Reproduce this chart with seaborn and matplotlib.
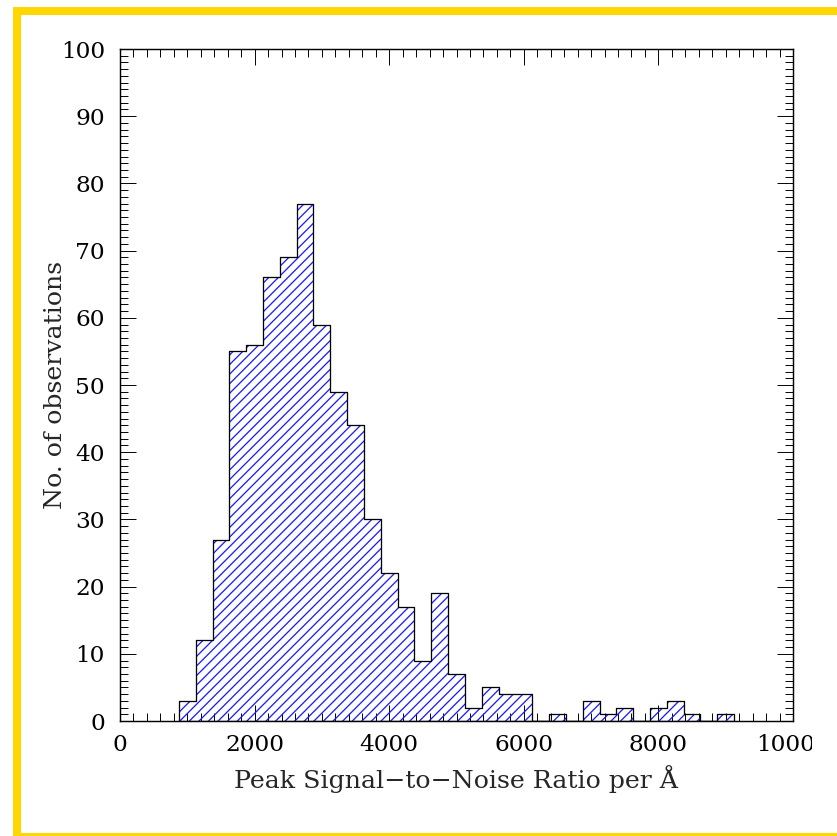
import numpy as np
import matplotlib
matplotlib.use("Agg")
import matplotlib.pyplot as plt
from matplotlib.ticker import MultipleLocator
from matplotlib.patches import Rectangle
from matplotlib.transforms import Bbox, TransformedBbox
import seaborn as sns

# Peak S/N per Angstrom: bin centres (bins are 250 wide) and counts per bin
snr_bin_centers = [1000, 1250, 1500, 1750, 2000, 2250, 2500, 2750, 3000, 3250,
                   3500, 3750, 4000, 4250, 4500, 4750, 5000, 5250, 5500, 5750,
                   6000, 6250, 6500, 6750, 7000, 7250, 7500, 7750, 8000, 8250,
                   8500, 8750, 9000]
n_observations = [3, 12, 27, 55, 56, 66, 69, 77, 59, 49,
                  44, 30, 22, 17, 9, 19, 7, 2, 5, 4,
                  4, 0, 1, 0, 3, 1, 2, 0, 2, 3,
                  1, 0, 1]

x_tick_values = [0, 2000, 4000, 6000, 8000, 10000]
x_tick_labels = ["0", "2000", "4000", "6000", "8000", "10000"]
y_tick_values = [0, 10, 20, 30, 40, 50, 60, 70, 80, 90, 100]
y_tick_labels = ["0", "10", "20", "30", "40", "50", "60", "70", "80", "90", "100"]

x_title = "Peak Signal\u2212to\u2212Noise Ratio per \u00c5"
y_title = "No. of observations"

DPI = 115
W, H = 837, 836
HATCH_BLUE = "#1a1aff"

sns.set_style("ticks")
plt.rcParams["font.family"] = ["DejaVu Serif"]
plt.rcParams["hatch.linewidth"] = 0.8
plt.rcParams["hatch.color"] = HATCH_BLUE

fig = plt.figure(figsize=(W / DPI, H / DPI), dpi=DPI)
ax = fig.add_axes([120 / W, (H - 721) / H, 673 / W, 672 / H])

hist_kw = dict(x=snr_bin_centers, weights=n_observations, binwidth=250,
               binrange=(875, 9125), element="step", fill=True, ax=ax)

# blue diagonal hatching inside the histogram
sns.histplot(**hist_kw, color=HATCH_BLUE, facecolor="none",
             edgecolor=HATCH_BLUE, linewidth=0, hatch="////")
# black step outline on top
sns.histplot(**hist_kw, color="black", facecolor="none",
             edgecolor="black", linewidth=0.8)

ax.set_xlim(0, 10000)
ax.set_ylim(0, 100)
ax.set_xticks(x_tick_values)
ax.set_xticklabels(x_tick_labels)
ax.set_yticks(y_tick_values)
ax.set_yticklabels(y_tick_labels)
ax.xaxis.set_minor_locator(MultipleLocator(200))
ax.yaxis.set_minor_locator(MultipleLocator(1))

fs = 14.6
ax.tick_params(which="both", direction="in", top=True, right=True,
               width=0.6, colors="black", labelsize=fs)
ax.tick_params(which="major", length=10)
ax.tick_params(which="minor", length=4.7)
ax.tick_params(axis="x", which="major", pad=8.3)
ax.tick_params(axis="y", which="major", pad=9.4)
for s in ax.spines.values():
    s.set_linewidth(0.9)
    s.set_color("black")

title_fs = 15.8
ax.set_xlabel(x_title, fontsize=title_fs, va="baseline")
ax.xaxis.set_label_coords(0.5, -(788 - 721) / 672)
ax.set_ylabel(y_title, fontsize=title_fs, va="center")
ax.yaxis.set_label_coords((56 - 120) / 673, 0.5)

# yellow frame around the panel
frame = Rectangle((17 / W, -1 / H), 900 / W, (H - 11 + 1) / H,
                  transform=fig.transFigure, fill=False,
                  edgecolor="#FFD700", linewidth=8 * 72 / DPI, clip_on=False)
fig.add_artist(frame)

# x tick labels are cut off at the right edge of the panel
fig.canvas.draw()
clip = TransformedBbox(Bbox([[0, 0], [812 / W, 1]]), fig.transFigure)
for lab in ax.get_xticklabels():
    lab.set_clip_box(clip)
    lab.set_clip_on(True)

fig.savefig("out.png", dpi=DPI)
